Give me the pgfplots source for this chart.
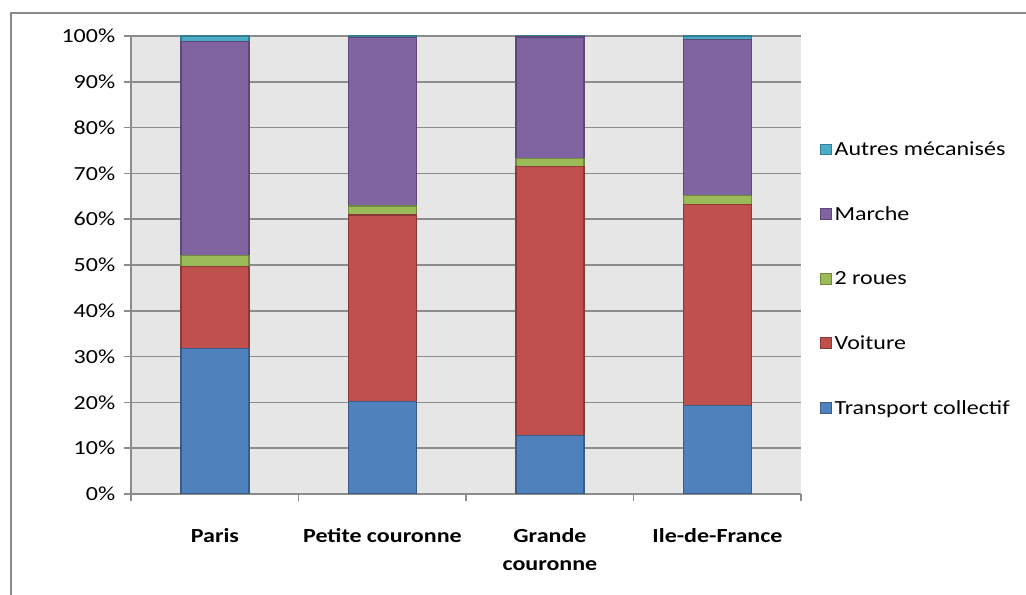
\documentclass[border=0pt]{standalone}
\usepackage{pgfplots}
\pgfplotsset{compat=1.18}
\usepackage{fontspec}
\setmainfont{Carlito}[FakeStretch=1.2]
\definecolor{cTC}{HTML}{4F81BD}
\definecolor{cTCb}{HTML}{385D8A}
\definecolor{cVO}{HTML}{C0504D}
\definecolor{cVOb}{HTML}{8C3836}
\definecolor{cDR}{HTML}{9BBB59}
\definecolor{cDRb}{HTML}{71893F}
\definecolor{cMA}{HTML}{8064A2}
\definecolor{cMAb}{HTML}{5C4776}
\definecolor{cAU}{HTML}{4BACC6}
\definecolor{cAUb}{HTML}{357D91}
\definecolor{plotbg}{HTML}{E6E6E6}
\definecolor{gridc}{HTML}{8C8C8C}
\definecolor{framec}{HTML}{8A8A8A}
\begin{document}
\begin{tikzpicture}
\path[use as bounding box] (0,0) rectangle (769.5pt,446.25pt);
\draw[framec, line width=1.5pt] (8.25pt,0pt) -- (8.25pt,436.5pt) -- (769.5pt,436.5pt);
\begin{axis}[
  at={(98.4pt,75.75pt)}, anchor=south west,
  scale only axis, width=502.5pt, height=343.5pt,
  xmin=-0.5, xmax=3.5, ymin=0, ymax=100,
  ybar stacked, bar width=51pt,
  axis background/.style={fill=plotbg},
  axis x line*=bottom, axis y line*=left,
  axis line style={gridc, line width=1.1pt},
  every tick/.style={gridc, line width=1.1pt},
  tick align=outside, major tick length=5.5pt,
  ytick={0,10,20,30,40,50,60,70,80,90,100},
  yticklabels={0\%,10\%,20\%,30\%,40\%,50\%,60\%,70\%,80\%,90\%,100\%},
  ymajorgrids, grid style={gridc, line width=1.1pt},
  xtick={-0.5,0.5,1.5,2.5,3.5}, xticklabels={,,,,},
  extra x ticks={0,1,2,3},
  extra x tick labels={Paris,Petite couronne,Grande\\couronne,Ile-de-France},
  extra x tick style={major tick length=0pt, grid=none,
     xticklabel style={font=\fontsize{15}{21}\selectfont\bfseries, align=center, anchor=north, yshift=-22pt}},
  yticklabel style={font=\fontsize{15}{18}\selectfont, xshift=-3pt},
  legend style={draw=none, fill=none, at={(1.028,0.776)}, anchor=north west,
     font=\fontsize{15}{18}\selectfont, row sep=32.8pt, inner sep=0pt},
  legend cell align=left,
  reverse legend,
  legend image code/.code={\draw[#1, line width=0.8pt] (0pt,-4pt) rectangle (8pt,4pt);},
]
\addplot[fill=cTC, draw=cTCb, line width=1pt] coordinates {(0,31.7) (1,20.2) (2,12.7) (3,19.3)};
\addplot[fill=cVO, draw=cVOb, line width=1pt] coordinates {(0,17.9) (1,40.7) (2,58.8) (3,43.9)};
\addplot[fill=cDR, draw=cDRb, line width=1pt] coordinates {(0,2.4) (1,2.0) (2,1.8) (3,1.9)};
\addplot[fill=cMA, draw=cMAb, line width=1pt] coordinates {(0,46.8) (1,36.7) (2,26.5) (3,34.2)};
\addplot[fill=cAU, draw=cAUb, line width=1pt] coordinates {(0,1.2) (1,0.4) (2,0.2) (3,0.7)};
\legend{Transport collectif,Voiture,2 roues,Marche,Autres mécanisés}
\end{axis}
\end{tikzpicture}
\end{document}
